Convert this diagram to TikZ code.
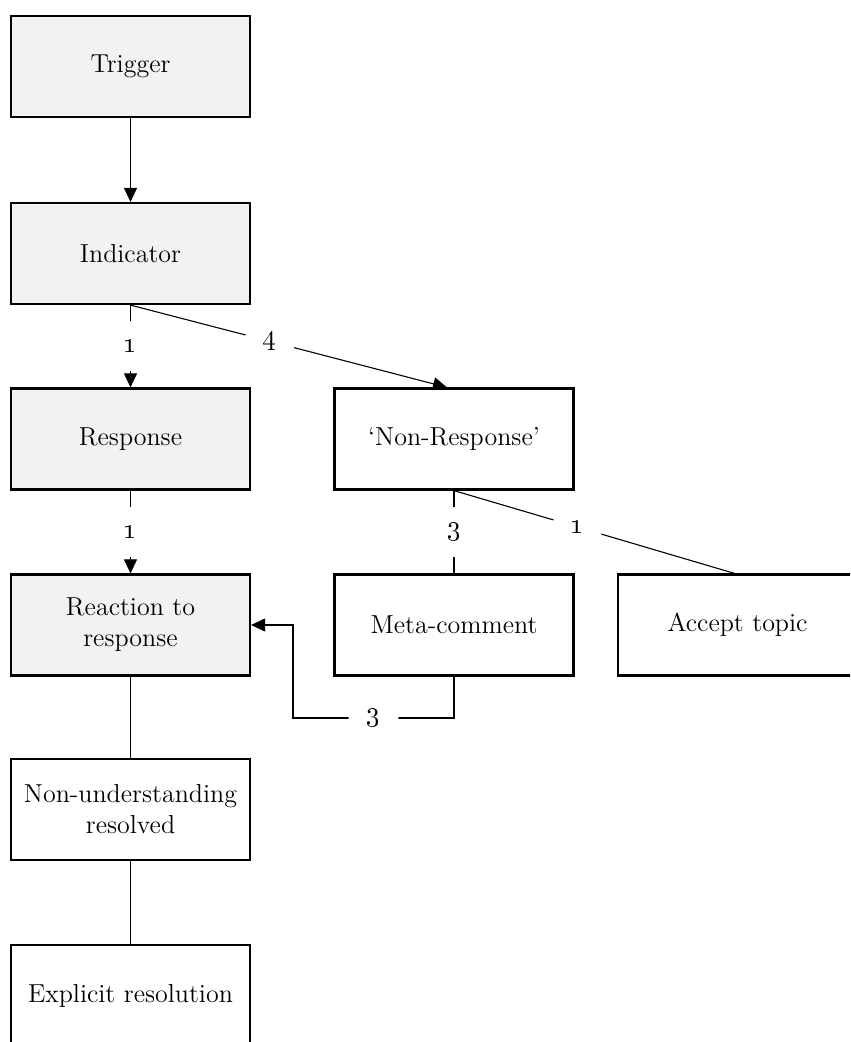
\documentclass[tikz,border=0pt]{standalone}
\usetikzlibrary{arrows.meta}
\definecolor{boxgray}{HTML}{F2F2F2}
\tikzset{
  box/.style={draw, line width=1.1pt, minimum width=119.5pt, minimum height=50.5pt, inner sep=2pt, align=center, font=\fontsize{13}{15.5}\selectfont},
  shaded/.style={box, fill=boxgray},
  conn/.style={line width=0.55pt},
  arr/.style={conn, -{Triangle[width=6.5pt,length=7pt]}},
  lbl/.style={fill=white, circle, inner sep=0pt, minimum size=25pt, font=\fontsize{15}{17}\selectfont},
}
\begin{document}
\begin{tikzpicture}[x=0.5pt,y=-0.5pt]
\clip (0,0) rectangle (850,1042);
\node[shaded] (trig) at (130.5,66.5) {Trigger};
\node[shaded] (ind) at (130.5,253.5) {Indicator};
\node[shaded] (resp) at (130.5,439) {Response};
\node[shaded] (react) at (130.5,625) {Reaction to\\response};
\node[box] (nonund) at (130.5,809.5) {Non-understanding\\resolved};
\node[box] (expl) at (130.5,995.5) {Explicit resolution};
\node[box] (nonresp) at (454,439) {`Non-Response'};
\node[box] (meta) at (454,625) {Meta-comment};
\node[box] (accept) at (737.5,625) {Accept topic};
\coordinate (k1) at (454,718);
\coordinate (k2) at (293,718);

\draw[arr] (trig) -- (ind);
\draw[arr] (ind) -- node[lbl]{\oldstylenums{1}} (resp);
\draw[arr] (ind.south) -- node[lbl,pos=0.44]{\oldstylenums{4}} ([xshift=-3.5pt]nonresp.north);
\draw[arr] (resp) -- node[lbl]{\oldstylenums{1}} (react);
\draw[conn] (nonresp.south) -- node[lbl]{\oldstylenums{3}} (meta.north);
\draw[conn] (nonresp.south) -- node[lbl,pos=0.44]{\oldstylenums{1}} ([xshift=-1.5pt]accept.north);
\draw[arr] (meta.south) -- (k1) -- node[lbl]{\oldstylenums{3}} (k2) |- (react.east);
\draw[conn] (react) -- (nonund);
\draw[conn] (nonund) -- (expl);
\end{tikzpicture}
\end{document}
